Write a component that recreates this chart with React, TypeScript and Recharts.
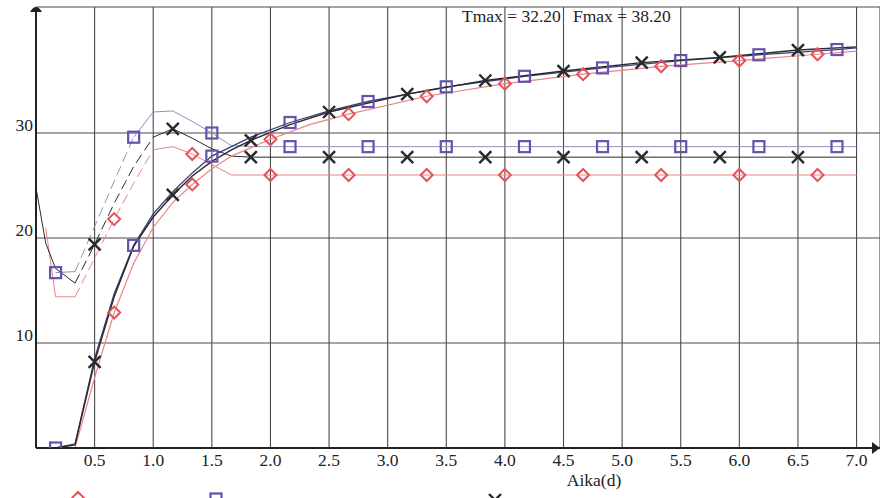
import React from 'react';
import { ComposedChart, Line, Scatter, XAxis, YAxis, CartesianGrid } from 'recharts';

// axis ticks
const xTicks = [0.5, 1.0, 1.5, 2.0, 2.5, 3.0, 3.5, 4.0, 4.5, 5.0, 5.5, 6.0, 6.5, 7.0];
const yTicks = [10, 20, 30];

// rising (cumulative) curves
const cumRedX = [0.167, 0.333, 0.5, 0.667, 0.833, 1.0, 1.167, 1.333, 1.5, 1.667, 2.0, 2.333, 2.667, 3.333, 4.0, 4.667, 5.333, 6.0, 6.667, 7.0];
const cumRedY = [0, 0, 6.7, 12.9, 17.6, 21.0, 23.4, 25.1, 26.6, 27.8, 29.4, 30.8, 31.8, 33.5, 34.7, 35.6, 36.35, 36.9, 37.5, 37.8];
const cumRedMarks = [0.667, 1.333, 2.0, 2.667, 3.333, 4.0, 4.667, 5.333, 6.0, 6.667];

const cumPurpleX = [0.167, 0.333, 0.5, 0.667, 0.833, 1.0, 1.167, 1.333, 1.5, 1.833, 2.167, 2.5, 2.833, 3.5, 4.167, 4.833, 5.5, 6.167, 6.833, 7.0];
const cumPurpleY = [0, 0.4, 8.5, 14.7, 19.3, 22.3, 24.4, 26.2, 27.8, 29.6, 31.0, 32.1, 33.0, 34.4, 35.4, 36.2, 36.9, 37.45, 37.95, 38.1];
const cumPurpleMarks = [0.167, 0.833, 1.5, 2.167, 2.833, 3.5, 4.167, 4.833, 5.5, 6.167, 6.833];

const cumBlackX = [0.167, 0.333, 0.5, 0.667, 0.833, 1.0, 1.167, 1.333, 1.5, 1.667, 1.833, 2.167, 2.5, 3.167, 3.833, 4.5, 5.167, 5.833, 6.5, 7.0];
const cumBlackY = [0, 0.3, 8.2, 14.4, 19.2, 22.0, 24.1, 25.9, 27.3, 28.4, 29.3, 30.8, 32.0, 33.7, 35.0, 35.9, 36.7, 37.2, 37.9, 38.2];
const cumBlackMarks = [0.5, 1.167, 1.833, 2.5, 3.167, 3.833, 4.5, 5.167, 5.833, 6.5];

// dip-peak-plateau curves
const levRedX = [0.083, 0.167, 0.333, 0.5, 0.667, 0.833, 1.0, 1.167, 1.333, 1.5, 1.667, 2.0, 2.667, 3.333, 4.0, 4.667, 5.333, 6.0, 6.667, 7.0];
const levRedY = [21.0, 14.4, 14.4, 18.1, 21.8, 25.2, 28.4, 28.7, 28.0, 27.0, 26.0, 26.0, 26.0, 26.0, 26.0, 26.0, 26.0, 26.0, 26.0, 26.0];
const levRedMarks = [0.667, 1.333, 2.0, 2.667, 3.333, 4.0, 4.667, 5.333, 6.0, 6.667];
const levRedDash = [0.333, 1.0];

const levPurpleX = [0.167, 0.333, 0.5, 0.667, 0.833, 1.0, 1.167, 1.333, 1.5, 1.667, 1.833, 2.167, 2.833, 3.5, 4.167, 4.833, 5.5, 6.167, 6.833, 7.0];
const levPurpleY = [16.7, 16.8, 21.1, 25.4, 29.6, 32.0, 32.1, 31.1, 30.0, 28.8, 28.7, 28.7, 28.7, 28.7, 28.7, 28.7, 28.7, 28.7, 28.7, 28.7];
const levPurpleMarks = [0.167, 0.833, 1.5, 2.167, 2.833, 3.5, 4.167, 4.833, 5.5, 6.167, 6.833];
const levPurpleDash = [0.333, 0.833];

const levBlackX = [0, 0.083, 0.167, 0.333, 0.5, 0.667, 0.833, 1.0, 1.167, 1.333, 1.5, 1.667, 1.833, 2.5, 3.167, 3.833, 4.5, 5.167, 5.833, 6.5, 7.0];
const levBlackY = [24.8, 19.5, 17.1, 15.7, 19.4, 23.3, 26.8, 29.6, 30.4, 29.5, 28.5, 27.8, 27.7, 27.7, 27.7, 27.7, 27.7, 27.7, 27.7, 27.7, 27.7];
const levBlackMarks = [0.5, 1.167, 1.833, 2.5, 3.167, 3.833, 4.5, 5.167, 5.833, 6.5];
const levBlackDash = [0.333, 1.0];

const RED = '#e5545c';
const RED_LINE = '#ea8585';
const PURPLE = '#6453ad';
const PURPLE_DARK = '#3f3d80';
const PURPLE_LIGHT = '#928fbf';
const BLACK = '#2a2a2a';
const GRID = '#4a4a4a';
const textStyle: React.CSSProperties = { fontFamily: "'Liberation Serif', 'Times New Roman', serif", fontSize: 17.5 };

const pts = (xs: number[], ys: number[]) => xs.map((x, i) => ({ x, y: ys[i] }));
const marks = (xs: number[], ys: number[], at: number[]) => at.map(x => ({ x, y: ys[xs.indexOf(x)] }));
const part = (xs: number[], ys: number[], lo: number, hi: number) =>
    pts(xs, ys).filter(p => p.x >= lo && p.x <= hi);

const Diamond = (p: any) => {
    const { cx, cy } = p;
    if (cx == null || cy == null) return null;
    return <polygon points={`${cx},${cy - 6} ${cx + 6},${cy} ${cx},${cy + 6} ${cx - 6},${cy}`} fill="none" stroke={RED} strokeWidth={2} />;
};
const Square = (p: any) => {
    const { cx, cy } = p;
    if (cx == null || cy == null) return null;
    return <rect x={cx - 5.5} y={cy - 5.5} width={11} height={11} fill="none" stroke={PURPLE} strokeWidth={2.2} />;
};
const Cross = (p: any) => {
    const { cx, cy } = p;
    if (cx == null || cy == null) return null;
    return (
        <g stroke={BLACK} strokeWidth={2.4}>
            <line x1={cx - 6} y1={cy - 6} x2={cx + 6} y2={cy + 6} />
            <line x1={cx - 6} y1={cy + 6} x2={cx + 6} y2={cy - 6} />
        </g>
    );
};

const XTick = ({ x, y, payload }: any) => (
    <text x={x} y={y + 18} textAnchor="middle" style={textStyle} fill="#222">
        {Number(payload.value).toFixed(1)}
    </text>
);
const YTick = ({ y, payload }: any) => (
    <text x={33} y={y - 2.5} textAnchor="end" style={textStyle} fill="#222">
        {payload.value}
    </text>
);

const App: React.FC = () => {
    // plateau series split into solid / dashed / solid pieces
    const pieces = (xs: number[], ys: number[], dash: number[]) => ({
        pre: part(xs, ys, -1, dash[0]),
        mid: part(xs, ys, dash[0], dash[1]),
        post: part(xs, ys, dash[1], 99),
    });
    const lr = pieces(levRedX, levRedY, levRedDash);
    const lp = pieces(levPurpleX, levPurpleY, levPurpleDash);
    const lb = pieces(levBlackX, levBlackY, levBlackDash);

    return (
        <div style={{ position: 'absolute', left: 0, top: 0, width: 880, height: 498, background: '#fff', overflow: 'hidden' }}>
            <ComposedChart width={880} height={498} margin={{ top: 7, right: 0, bottom: 20, left: 0 }}>
                <CartesianGrid stroke={GRID} strokeWidth={1.1} />
                <XAxis
                    type="number"
                    dataKey="x"
                    domain={[0, 7.2]}
                    ticks={xTicks}
                    allowDataOverflow
                    height={30}
                    tickLine={false}
                    tickSize={0}
                    tickMargin={0}
                    axisLine={{ stroke: '#222', strokeWidth: 2 }}
                    tick={<XTick />}
                />
                <YAxis
                    type="number"
                    dataKey="y"
                    domain={[0, 42]}
                    ticks={yTicks}
                    allowDataOverflow
                    width={36}
                    tickLine={false}
                    axisLine={{ stroke: '#222', strokeWidth: 2 }}
                    tick={<YTick />}
                />

                <Line data={lr.pre} dataKey="y" stroke={RED_LINE} strokeWidth={1} dot={false} isAnimationActive={false} />
                <Line data={lr.mid} dataKey="y" stroke={RED_LINE} strokeWidth={1} strokeDasharray="10 5" dot={false} isAnimationActive={false} />
                <Line data={lr.post} dataKey="y" stroke={RED_LINE} strokeWidth={1} dot={false} isAnimationActive={false} />

                <Line data={lp.pre} dataKey="y" stroke={PURPLE_LIGHT} strokeWidth={1} dot={false} isAnimationActive={false} />
                <Line data={lp.mid} dataKey="y" stroke={PURPLE_LIGHT} strokeWidth={1} strokeDasharray="10 5" dot={false} isAnimationActive={false} />
                <Line data={lp.post} dataKey="y" stroke={PURPLE_LIGHT} strokeWidth={1} dot={false} isAnimationActive={false} />

                <Line data={lb.pre} dataKey="y" stroke={BLACK} strokeWidth={1} dot={false} isAnimationActive={false} />
                <Line data={lb.mid} dataKey="y" stroke={BLACK} strokeWidth={1} strokeDasharray="10 5" dot={false} isAnimationActive={false} />
                <Line data={lb.post} dataKey="y" stroke={BLACK} strokeWidth={1} dot={false} isAnimationActive={false} />

                <Line data={pts(cumRedX, cumRedY)} dataKey="y" stroke={RED_LINE} strokeWidth={1.2} dot={false} isAnimationActive={false} />
                <Line data={pts(cumPurpleX, cumPurpleY)} dataKey="y" stroke={PURPLE_DARK} strokeWidth={1.3} dot={false} isAnimationActive={false} />
                <Line data={pts(cumBlackX, cumBlackY)} dataKey="y" stroke={BLACK} strokeWidth={1.4} dot={false} isAnimationActive={false} />

                <Scatter data={marks(levRedX, levRedY, levRedMarks)} dataKey="y" shape={Diamond} isAnimationActive={false} />
                <Scatter data={marks(cumRedX, cumRedY, cumRedMarks)} dataKey="y" shape={Diamond} isAnimationActive={false} />
                <Scatter data={marks(levPurpleX, levPurpleY, levPurpleMarks)} dataKey="y" shape={Square} isAnimationActive={false} />
                <Scatter data={marks(cumPurpleX, cumPurpleY, cumPurpleMarks)} dataKey="y" shape={Square} isAnimationActive={false} />
                <Scatter data={marks(levBlackX, levBlackY, levBlackMarks)} dataKey="y" shape={Cross} isAnimationActive={false} />
                <Scatter data={marks(cumBlackX, cumBlackY, cumBlackMarks)} dataKey="y" shape={Cross} isAnimationActive={false} />
            </ComposedChart>

            {/* axis arrows, header text, axis title and the clipped legend row */}
            <svg width={880} height={498} style={{ position: 'absolute', left: 0, top: 0, pointerEvents: 'none' }}>
                <path d="M30,12 Q36,2 42,12 Z" fill="#222" />
                <path d="M872,442 L880,448 L872,454 Z" fill="#222" />
                <text x={462} y={22} style={textStyle} fill="#222">Tmax = 32.20</text>
                <text x={573} y={22} style={textStyle} fill="#222">Fmax = 38.20</text>
                <text x={594} y={486} textAnchor="middle" style={textStyle} fill="#222">Aika(d)</text>
                <Diamond cx={78} cy={498} />
                <Square cx={216} cy={499} />
                <Cross cx={495} cy={500} />
            </svg>
        </div>
    );
};

export default App;
